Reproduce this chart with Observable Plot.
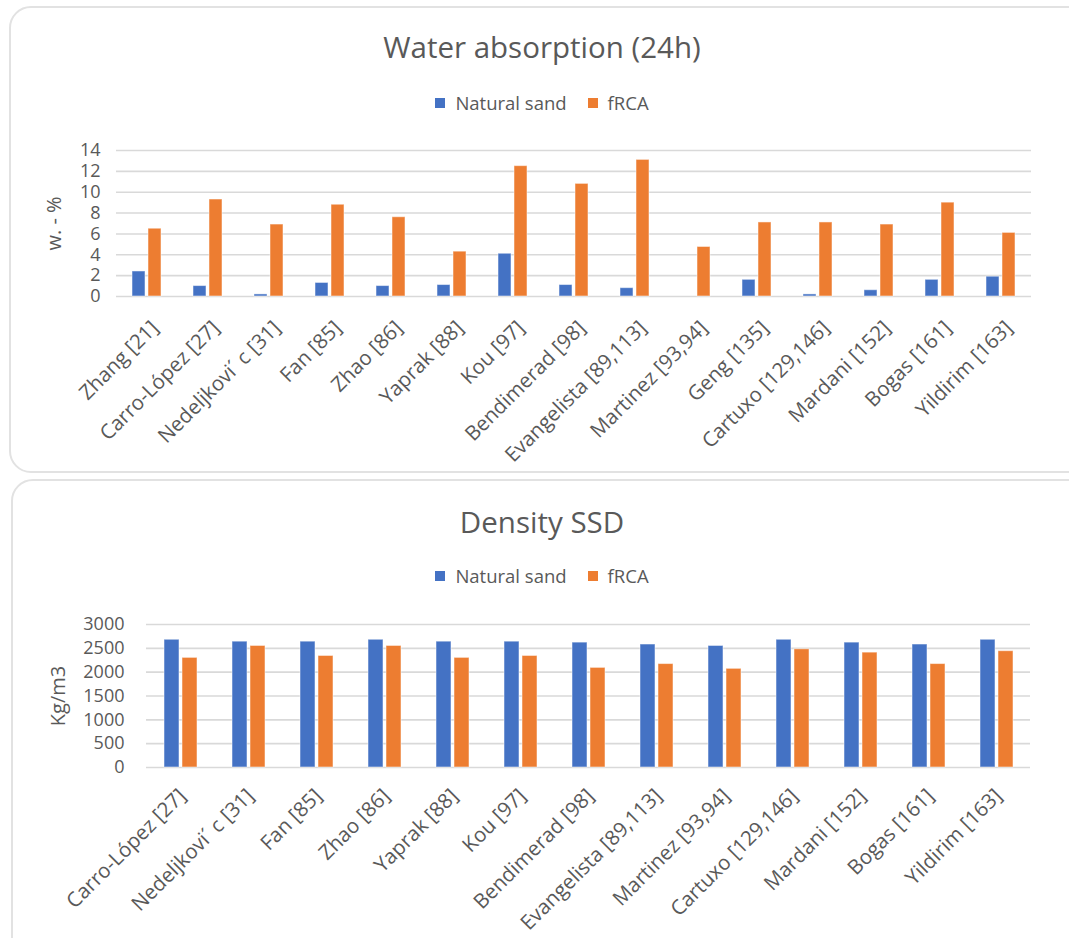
<!DOCTYPE html>
<html>
<head>
<meta charset="utf-8">
<script src="https://cdn.jsdelivr.net/npm/d3@7"></script>
<script src="https://cdn.jsdelivr.net/npm/@observablehq/plot@0.6"></script>
<style>
  body { margin: 0; width: 1069px; height: 938px; overflow: hidden; background: #fff;
         font-family: "Open Sans", sans-serif; color: #595959; position: relative; }
  .panel { position: absolute; border: 2px solid #e2e2e2; border-radius: 22px; background: #fff; }
  .title { position: absolute; left: 0; width: 1084px; text-align: center; font-size: 29.5px; line-height: 1; }
  .legend { position: absolute; left: 0; width: 1084px; display: flex; justify-content: center;
            gap: 21px; font-size: 18.5px; line-height: 1; }
  .legend .item { display: flex; align-items: center; }
  .legend .sw { display: inline-block; width: 10px; height: 10px; margin-right: 10px; }
  .chart { position: absolute; left: 0; }
  .chart g[aria-label="y-axis label"] { font-size: 20px; }
</style>
</head>
<body>
<div class="panel" style="left:9px; top:6px; width:1090px; height:463px;"></div>
<div class="panel" style="left:11px; top:479px; width:1090px; height:500px;"></div>
<script>
// Series shared by both charts
const seriesNames = ["Natural sand", "fRCA"];
const seriesColors = ["#4472C4", "#ED7D31"];

// Water absorption after 24 h (w. - %)
const waterStudies = ["Zhang [21]", "Carro-López [27]", "Nedeljkovi´ c [31]", "Fan [85]", "Zhao [86]",
  "Yaprak [88]", "Kou [97]", "Bendimerad [98]", "Evangelista [89,113]", "Martinez [93,94]",
  "Geng [135]", "Cartuxo [129,146]", "Mardani [152]", "Bogas [161]", "Yildirim [163]"];
const waterNatural = [2.4, 1.0, 0.2, 1.3, 1.0, 1.1, 4.1, 1.1, 0.8, null, 1.6, 0.2, 0.6, 1.6, 1.9];
const waterFrca = [6.5, 9.3, 6.9, 8.8, 7.6, 4.3, 12.5, 10.8, 13.1, 4.75, 7.1, 7.1, 6.9, 9.0, 6.1];
const waterTicks = [0, 2, 4, 6, 8, 10, 12, 14];

// Saturated surface-dry density (Kg/m3)
const densityStudies = ["Carro-López [27]", "Nedeljkovi´ c [31]", "Fan [85]", "Zhao [86]", "Yaprak [88]",
  "Kou [97]", "Bendimerad [98]", "Evangelista [89,113]", "Martinez [93,94]", "Cartuxo [129,146]",
  "Mardani [152]", "Bogas [161]", "Yildirim [163]"];
const densityNatural = [2680, 2640, 2640, 2680, 2640, 2640, 2620, 2580, 2550, 2680, 2620, 2580, 2680];
const densityFrca = [2300, 2550, 2340, 2550, 2300, 2340, 2090, 2170, 2070, 2480, 2410, 2170, 2440];
const densityTicks = [0, 500, 1000, 1500, 2000, 2500, 3000];

function header(title, titleTop, legendTop) {
  const t = document.createElement("div");
  t.className = "title";
  t.style.top = titleTop + "px";
  t.textContent = title;
  document.body.appendChild(t);
  const lg = document.createElement("div");
  lg.className = "legend";
  lg.style.top = legendTop + "px";
  seriesNames.forEach((name, i) => {
    const item = document.createElement("span");
    item.className = "item";
    const sw = document.createElement("span");
    sw.className = "sw";
    sw.style.background = seriesColors[i];
    item.appendChild(sw);
    item.appendChild(document.createTextNode(name));
    lg.appendChild(item);
  });
  document.body.appendChild(lg);
}

function groupedBars(o) {
  const rows = o.studies.flatMap((s, i) => [
    {study: s, series: seriesNames[0], value: o.natural[i]},
    {study: s, series: seriesNames[1], value: o.frca[i]}
  ]);
  const chart = Plot.plot({
    width: 1069,
    height: o.height,
    marginTop: o.marginTop,
    marginBottom: o.marginBottom,
    marginLeft: o.marginLeft,
    marginRight: o.marginRight,
    style: {fontFamily: "Open Sans, sans-serif", fontSize: "18px", color: "#595959",
            background: "transparent", overflow: "visible"},
    fx: {domain: o.studies, padding: 0},
    x: {domain: seriesNames, axis: null, paddingInner: o.paddingInner, paddingOuter: o.paddingOuter},
    y: {domain: [o.ticks[0], o.ticks[o.ticks.length - 1]]},
    color: {domain: seriesNames, range: seriesColors},
    marks: [
      Plot.gridY(o.ticks, {stroke: "#d9d9d9", strokeOpacity: 1, strokeWidth: 1.6}),
      Plot.barY(rows, {fx: "study", x: "series", y: "value", fill: "series",
                       stroke: "#ffffff", strokeOpacity: 0.5, strokeWidth: 1}),
      Plot.axisY({anchor: "left", ticks: o.ticks, tickSize: 0, tickPadding: o.yPad,
                  tickFormat: (d) => String(d), fontSize: 18, label: o.yLabel,
                  labelAnchor: "center", labelArrow: "none", labelOffset: o.labelOffset}),
      Plot.axisFx({anchor: "bottom", tickRotate: -45, tickSize: 0, tickPadding: o.xPad,
                   dx: o.xShift, fontSize: 20.5, label: null})
    ]
  });
  chart.classList.add("chart");
  chart.style.top = o.top + "px";
  document.body.appendChild(chart);
}

header("Water absorption (24h)", 32, 94);
groupedBars({
  studies: waterStudies, natural: waterNatural, frca: waterFrca, ticks: waterTicks,
  yLabel: "w. - %", top: 130, height: 335, marginTop: 20, marginBottom: 169,
  marginLeft: 115, marginRight: 37, yPad: 16, xPad: 28, xShift: 8, labelOffset: 70,
  paddingInner: 0.21, paddingOuter: 0.92
});

header("Density SSD", 507, 567);
groupedBars({
  studies: densityStudies, natural: densityNatural, frca: densityFrca, ticks: densityTicks,
  yLabel: "Kg/m3", top: 600, height: 338, marginTop: 24, marginBottom: 171,
  marginLeft: 140, marginRight: 34, yPad: 22, xPad: 25, xShift: 2, labelOffset: 96,
  paddingInner: 0.18, paddingOuter: 0.9
});
</script>
</body>
</html>
